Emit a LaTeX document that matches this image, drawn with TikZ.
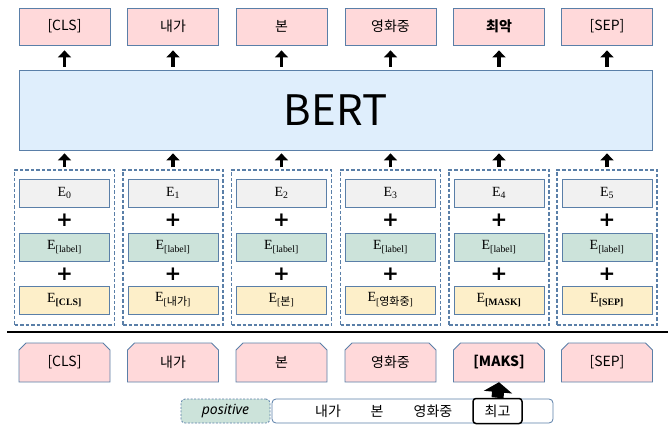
\documentclass[tikz,border=0pt]{standalone}
\usepackage{fontspec}
\usetikzlibrary{arrows.meta}
\setmainfont{Liberation Serif}
\newfontfamily\kr{Noto Sans CJK KR}
\newfontfamily\ns{Noto Sans}
\newfontfamily\dvsans{DejaVu Sans}
\definecolor{edgeblue}{HTML}{5A7FA8}
\definecolor{pinkf}{HTML}{FFD9DA}
\definecolor{bertf}{HTML}{DFEEFC}
\definecolor{grayf}{HTML}{F1F1F1}
\definecolor{greenf}{HTML}{CCE3DA}
\definecolor{yellowf}{HTML}{FDEFC9}
\newcommand\krsub[1]{{\kr\fontsize{11}{12}\selectfont #1}}
\begin{document}
\begin{tikzpicture}[x=1pt,y=-1pt,
  tok/.style={draw=edgeblue, fill=pinkf, line width=0.8pt, minimum width=91pt, minimum height=37pt, inner sep=0pt, font=\kr\fontsize{14}{16}\selectfont},
  ebox/.style={draw=edgeblue, line width=0.8pt, minimum width=90pt, minimum height=28pt, inner sep=0pt, font=\fontsize{14}{16}\selectfont},
  grp/.style={draw=edgeblue, dash pattern=on 3.5pt off 2pt, line width=1.2pt, minimum width=100pt, minimum height=155pt, inner sep=0pt},
  arr/.style={-{Triangle[width=13pt,length=7pt]}, line width=3.5pt},
  plus/.style={font=\dvsans\bfseries\fontsize{20}{20}\selectfont, inner sep=0pt},
  snip/.style={draw=edgeblue, fill=pinkf, line width=0.8pt},
  btok/.style={inner sep=0pt, minimum width=91pt, minimum height=39pt, font=\kr\fontsize{14}{16}\selectfont}
]
\useasboundingbox (0,0) rectangle (668,427);
% BERT
\node[draw=edgeblue, fill=bertf, line width=0.8pt, minimum width=633pt, minimum height=80pt, inner sep=0pt,
      font=\kr\fontsize{42}{46}\selectfont] (bert) at (335.5,110) {BERT};
\foreach \i/\x/\top/\e/\w/\bt in {
  1/64.5/{[CLS]}/0/{\textbf{[CLS]}}/{[CLS]},
  2/173/{내가}/1/{[\krsub{내가}]}/{내가},
  3/281.5/{본}/2/{[\krsub{본}]}/{본},
  4/390.5/{영화중}/3/{[\krsub{영화중}]}/{영화중},
  5/499/{\textbf{최악}}/4/{\textbf{[MASK]}}/{\textbf{[MAKS]}},
  6/607/{[SEP]}/5/{\textbf{[SEP]}}/{[SEP]}} {
  \node[tok] (t\i) at (\x,26.5) {\top};
  \draw[arr, shorten <=3pt, shorten >=5pt] (bert.north -| t\i.south) -- (t\i.south);
  \node[grp] (g\i) at (\x,247.5) {};
  \draw[arr, shorten <=2pt, shorten >=3pt] (g\i.north) -- (g\i.north |- bert.south);
  \node[ebox, fill=grayf] (p\i) at (\x,193) {E\textsubscript{\e}};
  \node[plus] (pa\i) at (\x,220) {+};
  \node[ebox, fill=greenf] (l\i) at (\x,247) {E\textsubscript{[label]}};
  \node[plus] (pb\i) at (\x,274) {+};
  \node[ebox, fill=yellowf] (w\i) at (\x,300) {E\textsubscript{\w}};
  \filldraw[snip] ({\x-45.5},382) -- ({\x-45.5},350) -- ({\x-38.5},343) -- ({\x+38.5},343) -- ({\x+45.5},350) -- ({\x+45.5},382) -- cycle;
  \node[btok] (b\i) at (\x,362.5) {\bt};
}
% separator line
\coordinate (sl) at (7,332);
\coordinate (sr) at (668,332);
\draw[line width=2pt] (sl) -- (sr);
% bottom row
\node[draw=edgeblue, dash pattern=on 2pt off 1.5pt, line width=0.8pt, fill=greenf, rounded corners=4pt,
      minimum width=89pt, minimum height=24pt, inner sep=0pt, font=\ns\itshape\fontsize{14}{16}\selectfont] (pos) at (225.5,411) {positive};
\node[draw=edgeblue, line width=0.8pt, fill=white, rounded corners=4pt, minimum width=281pt, minimum height=24pt, inner sep=0pt] (sent) at (412.5,411) {};
\node[font=\kr\fontsize{14}{16}\selectfont, inner sep=0pt] (s1) at (328,411) {내가};
\node[font=\kr\fontsize{14}{16}\selectfont, inner sep=0pt] (s2) at (377,411) {본};
\node[font=\kr\fontsize{14}{16}\selectfont, inner sep=0pt] (s3) at (433,411) {영화중};
\node[draw=black, line width=1.5pt, fill=white, rounded corners=3pt, minimum width=49pt, minimum height=25pt, inner sep=0pt,
      font=\kr\fontsize{14}{16}\selectfont] (cg) at (497.5,411) {최고};
\draw[-{Triangle[width=28pt,length=10pt]}, line width=12pt] (cg.north) -- (b5.south);
\end{tikzpicture}
\end{document}
